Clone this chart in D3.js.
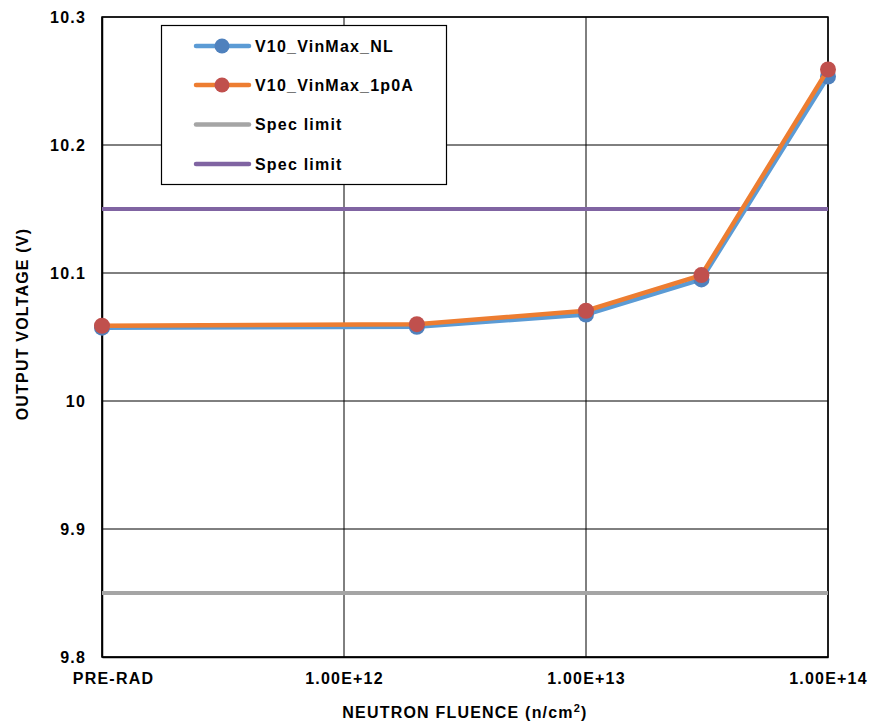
<!DOCTYPE html>
<html>
<head>
<meta charset="utf-8">
<script src="https://cdn.jsdelivr.net/npm/d3@7"></script>
<style>
  html, body { margin: 0; padding: 0; background: #fff; }
  svg { display: block; font-family: "Liberation Sans", Arial, sans-serif; font-weight: bold; }
  svg text { letter-spacing: 1.2px; }
</style>
</head>
<body>
<svg id="chart" width="871" height="725"></svg>
<script>
// Fluence values (n/cm^2); PRE-RAD is placed at 1e11 on the log axis
const fluence = [1e11, 2e12, 1e13, 3e13, 1e14];
const seriesNL = [10.0573, 10.0580, 10.0675, 10.0950, 10.2535];
const series1p0A = [10.0588, 10.0600, 10.0705, 10.0984, 10.2590];
const specLow = 9.85;
const specHigh = 10.15;
const xTickValues = [1e11, 1e12, 1e13, 1e14];
const xTickLabels = ["PRE-RAD", "1.00E+12", "1.00E+13", "1.00E+14"];
const yTickValues = [9.8, 9.9, 10.0, 10.1, 10.2, 10.3];
const yTickLabels = ["9.8", "9.9", "10", "10.1", "10.2", "10.3"];
const legendNames = ["V10_VinMax_NL", "V10_VinMax_1p0A", "Spec limit", "Spec limit"];

const svg = d3.select("#chart");
const m = { left: 102, right: 828, top: 17, bottom: 657 };
const FS = 16;

const x = d3.scaleLog().domain([1e11, 1e14]).range([m.left, m.right]);
const y = d3.scaleLinear().domain([9.8, 10.3]).range([m.bottom, m.top]);

// Grid lines
const grid = svg.append("g");
grid.selectAll("line.h").data(yTickValues).join("line")
  .attr("x1", m.left).attr("x2", m.right)
  .attr("y1", d => y(d)).attr("y2", d => y(d))
  .attr("stroke", "#000").attr("stroke-width", 1);
grid.selectAll("line.v").data(xTickValues).join("line")
  .attr("x1", d => x(d)).attr("x2", d => x(d))
  .attr("y1", m.top).attr("y2", m.bottom)
  .attr("stroke", "#000").attr("stroke-width", 1);

// Axes
const xAxis = d3.axisBottom(x).tickValues(xTickValues)
  .tickFormat((d, i) => xTickLabels[i]).tickSize(0).tickPadding(16);
const gx = svg.append("g").attr("transform", `translate(0,${m.bottom})`).call(xAxis);
gx.select(".domain").attr("stroke", "#000").attr("stroke-width", 1.5);
gx.selectAll("text").attr("font-size", FS).attr("font-weight", "bold").attr("fill", "#000")
  .attr("font-family", "Liberation Sans, Arial, sans-serif")
  .attr("dx", (d, i) => i === 0 ? 11 : 0);

const yAxis = d3.axisLeft(y).tickValues(yTickValues)
  .tickFormat((d, i) => yTickLabels[i]).tickSize(0).tickPadding(16);
const gy = svg.append("g").attr("transform", `translate(${m.left},0)`).call(yAxis);
gy.select(".domain").attr("stroke", "#000").attr("stroke-width", 1.5);
gy.selectAll("text").attr("font-size", FS).attr("font-weight", "bold").attr("fill", "#000")
  .attr("font-family", "Liberation Sans, Arial, sans-serif");

// Plot frame
svg.append("rect").attr("x", m.left).attr("y", m.top)
  .attr("width", m.right - m.left).attr("height", m.bottom - m.top)
  .attr("fill", "none").attr("stroke", "#000").attr("stroke-width", 1.5);

// Spec limit lines
svg.append("line").attr("x1", m.left).attr("x2", m.right)
  .attr("y1", y(specLow)).attr("y2", y(specLow))
  .attr("stroke", "#A5A5A5").attr("stroke-width", 4);
svg.append("line").attr("x1", m.left).attr("x2", m.right)
  .attr("y1", y(specHigh)).attr("y2", y(specHigh))
  .attr("stroke", "#8064A2").attr("stroke-width", 4);

// Data series
const line = d3.line().x((d, i) => x(fluence[i])).y(d => y(d));
function drawSeries(vals, lineColor, markerColor) {
  svg.append("path").datum(vals).attr("d", line)
    .attr("fill", "none").attr("stroke", lineColor).attr("stroke-width", 4.5)
    .attr("stroke-linejoin", "round");
  svg.append("g").selectAll("circle").data(vals).join("circle")
    .attr("cx", (d, i) => x(fluence[i])).attr("cy", d => y(d)).attr("r", 8)
    .attr("fill", markerColor);
}
drawSeries(seriesNL, "#5B9BD5", "#4F81BD");
drawSeries(series1p0A, "#ED7D31", "#C0504D");

// Legend
const legend = svg.append("g");
legend.append("rect").attr("x", 161.5).attr("y", 25.5).attr("width", 285).attr("height", 159)
  .attr("fill", "#fff").attr("stroke", "#000").attr("stroke-width", 1.2);
const legendStyles = [
  { line: "#5B9BD5", marker: "#4F81BD" },
  { line: "#ED7D31", marker: "#C0504D" },
  { line: "#A5A5A5", marker: null },
  { line: "#8064A2", marker: null }
];
const rowY = [46, 85, 124.5, 164];
legendNames.forEach((name, i) => {
  const ry = rowY[i];
  legend.append("line").attr("x1", 196).attr("x2", 249).attr("y1", ry).attr("y2", ry)
    .attr("stroke", legendStyles[i].line).attr("stroke-width", 4.5).attr("stroke-linecap", "round");
  if (legendStyles[i].marker) {
    legend.append("circle").attr("cx", 222).attr("cy", ry).attr("r", 7.5)
      .attr("fill", legendStyles[i].marker);
  }
  legend.append("text").attr("x", 255).attr("y", ry).attr("dy", "0.36em")
    .attr("font-size", FS).attr("font-weight", "bold").attr("fill", "#000").text(name);
});

// Axis titles
svg.append("text").attr("transform", `translate(28,324) rotate(-90)`)
  .attr("text-anchor", "middle").attr("font-size", FS).attr("fill", "#000")
  .text("OUTPUT VOLTAGE (V)");
const xt = svg.append("text").attr("x", 465).attr("y", 718)
  .attr("text-anchor", "middle").attr("font-size", FS).attr("fill", "#000");
xt.append("tspan").text("NEUTRON FLUENCE (n/cm");
xt.append("tspan").attr("dy", -6).attr("font-size", 11).text("2");
xt.append("tspan").attr("dy", 6).text(")");
</script>
</body>
</html>
